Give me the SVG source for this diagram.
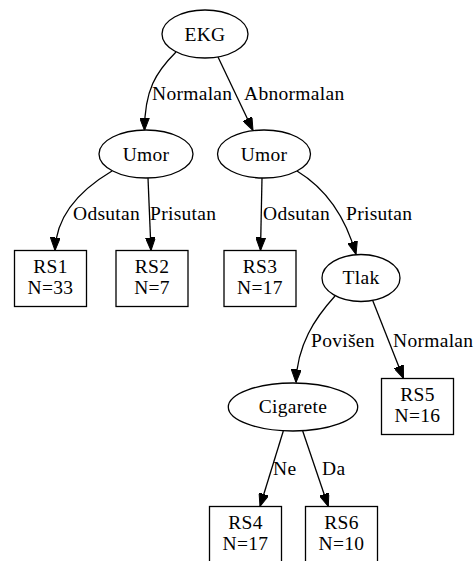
<svg xmlns="http://www.w3.org/2000/svg" width="474" height="561" viewBox="0 0 474 561">
<defs>
<style>
.n{fill:#fff;stroke:#000;stroke-width:1.3}
.e{fill:none;stroke:#000;stroke-width:1.3;marker-end:url(#ah)}
text{font-family:"Times New Roman","Liberation Serif","DejaVu Serif",serif;font-size:19.5px;fill:#000;letter-spacing:0.3px}
.c{text-anchor:middle}
</style>
<marker id="ah" markerUnits="userSpaceOnUse" viewBox="0 0 13 10" refX="13" refY="5" markerWidth="13" markerHeight="10" orient="auto">
<path d="M0,0 L13,5 L0,10 z" fill="#000" stroke="#000" stroke-width="1"/>
</marker>
</defs>
<rect width="474" height="561" fill="#fff"/>
<g id="connectors">
<path class="e" d="M176,52 C156,72 144.5,90 144.5,130.5"/>
<path class="e" d="M218,57 L253,130.5"/>
<path class="e" d="M112,171 C80,190 56,215 55,250.5"/>
<path class="e" d="M148,178 L151,250.5"/>
<path class="e" d="M262,178 L260.5,250.5"/>
<path class="e" d="M297,171 C325,188 345,215 356,254.5"/>
<path class="e" d="M335,296 C315,318 297,345 296,382.5"/>
<path class="e" d="M372.7,300.5 L403.5,378.5"/>
<path class="e" d="M283.3,431 L260,506.5"/>
<path class="e" d="M302.7,431 L328.3,506.5"/>
<text x="152" y="100">Normalan</text>
<text x="244" y="100">Abnormalan</text>
<text x="73" y="220">Odsutan</text>
<text x="150" y="220">Prisutan</text>
<text x="263" y="220">Odsutan</text>
<text x="346" y="220">Prisutan</text>
<text x="311" y="347">Povišen</text>
<text x="393" y="347">Normalan</text>
<text x="273" y="475">Ne</text>
<text x="322" y="475">Da</text>
</g>
<g id="ekg"><ellipse class="n" cx="205" cy="34" rx="43" ry="24"/><text class="c" x="205" y="41">EKG</text></g>
<g id="umor1"><ellipse class="n" cx="146" cy="154" rx="47" ry="24"/><text class="c" x="146" y="161">Umor</text></g>
<g id="umor2"><ellipse class="n" cx="264" cy="154" rx="46.5" ry="24"/><text class="c" x="264" y="161">Umor</text></g>
<g id="rs1"><rect class="n" x="14.5" y="250.5" width="72" height="56"/><text class="c" x="50.5" y="272.5">RS1</text><text class="c" x="50.5" y="294">N=33</text></g>
<g id="rs2"><rect class="n" x="116" y="250.5" width="72" height="56"/><text class="c" x="152" y="272.5">RS2</text><text class="c" x="152" y="294">N=7</text></g>
<g id="rs3"><rect class="n" x="224" y="250.5" width="72" height="56"/><text class="c" x="260" y="272.5">RS3</text><text class="c" x="260" y="294">N=17</text></g>
<g id="tlak"><ellipse class="n" cx="361" cy="278" rx="39" ry="23.5"/><text class="c" x="361" y="284">Tlak</text></g>
<g id="cigarete"><ellipse class="n" cx="293" cy="407" rx="64.7" ry="24"/><text class="c" x="293" y="413">Cigarete</text></g>
<g id="rs5"><rect class="n" x="381.5" y="378.5" width="72" height="56"/><text class="c" x="417.5" y="400.5">RS5</text><text class="c" x="417.5" y="422">N=16</text></g>
<g id="rs4"><rect class="n" x="209.5" y="506.5" width="72" height="56"/><text class="c" x="245.5" y="528.5">RS4</text><text class="c" x="245.5" y="550">N=17</text></g>
<g id="rs6"><rect class="n" x="305.5" y="506.5" width="72" height="56"/><text class="c" x="341.5" y="528.5">RS6</text><text class="c" x="341.5" y="550">N=10</text></g>
</svg>
